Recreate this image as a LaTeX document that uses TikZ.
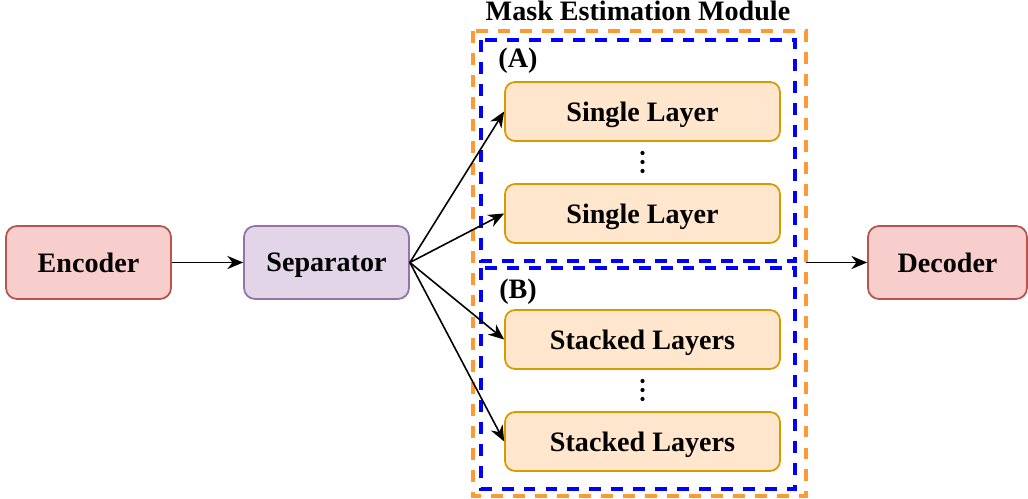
\documentclass[tikz,border=0pt]{standalone}
\usepackage{fontspec}
\setmainfont{Liberation Serif}
\usetikzlibrary{arrows.meta}
\definecolor{encfill}{HTML}{F8CECC}
\definecolor{encdraw}{HTML}{B85450}
\definecolor{sepfill}{HTML}{E1D5E7}
\definecolor{sepdraw}{HTML}{9673A6}
\definecolor{layfill}{HTML}{FFE6CC}
\definecolor{laydraw}{HTML}{D79B00}
\definecolor{modorange}{HTML}{FF9933}
\tikzset{
	boldtext/.style={font=\fontsize{16}{18}\selectfont\bfseries},
	blockbox/.style={boldtext, draw, line width=1pt, rounded corners=2.2mm, minimum width=3.3cm, minimum height=1.46cm, text depth=0pt},
	layerbox/.style={boldtext, fill=layfill, draw=laydraw, line width=1pt, rounded corners=2mm, minimum width=5.5cm, minimum height=1.18cm, text depth=0pt},
	groupframe/.style={dash pattern=on 6.8pt off 5.7pt, line width=1.8pt},
	dotmark/.style={circle, fill=black, inner sep=0pt, minimum size=2.4pt},
	flow/.style={-{Stealth[length=9pt,width=7.5pt]}, line width=0.9pt}
}
\begin{document}
\begin{tikzpicture}[x=0.02cm, y=-0.02cm]
	\useasboundingbox (0,0) rectangle (1028,499);

	\node[blockbox, fill=encfill, draw=encdraw] (encoder) at (88.5,262.5) {Encoder};
	\node[blockbox, fill=sepfill, draw=sepdraw] (separator) at (326.5,262.5) {Separator};
	\node[blockbox, fill=encfill, draw=encdraw, minimum width=3.18cm] (decoder) at (947.5,262.5) {Decoder};

	\draw[groupframe, modorange, line width=2pt] (473,31) rectangle (806,496);
	\draw[groupframe, blue] (481,40) rectangle (795,261);
	\draw[groupframe, blue] (481,268) rectangle (795,489);

	\node[boldtext] (title) at (638,11) {Mask Estimation Module};
	\node[boldtext] (labelA) at (518,61) {(A)};
	\node[boldtext] (labelB) at (518,292) {(B)};

	\node[layerbox] (single1) at (642.5,111.5) {Single Layer};
	\node[layerbox] (single2) at (642.5,213.5) {Single Layer};
	\node[layerbox] (stacked1) at (642.5,339.5) {Stacked Layers};
	\node[layerbox] (stacked2) at (642.5,441.5) {Stacked Layers};

	\foreach \dy in {153,162,171} {
		\node[dotmark] (dotA\dy) at (642.5,\dy) {};
		\node[dotmark] (dotB\dy) at (642.5,\dy+228) {};
	}

	\coordinate (modout) at (806,262.5);

	\draw[flow] (encoder) -- (separator);
	\draw[flow] (separator.east) -- (single1.west);
	\draw[flow] (separator.east) -- (single2.west);
	\draw[flow] (separator.east) -- (stacked1.west);
	\draw[flow] (separator.east) -- (stacked2.west);
	\draw[flow] (modout) -- (decoder);
\end{tikzpicture}
\end{document}
